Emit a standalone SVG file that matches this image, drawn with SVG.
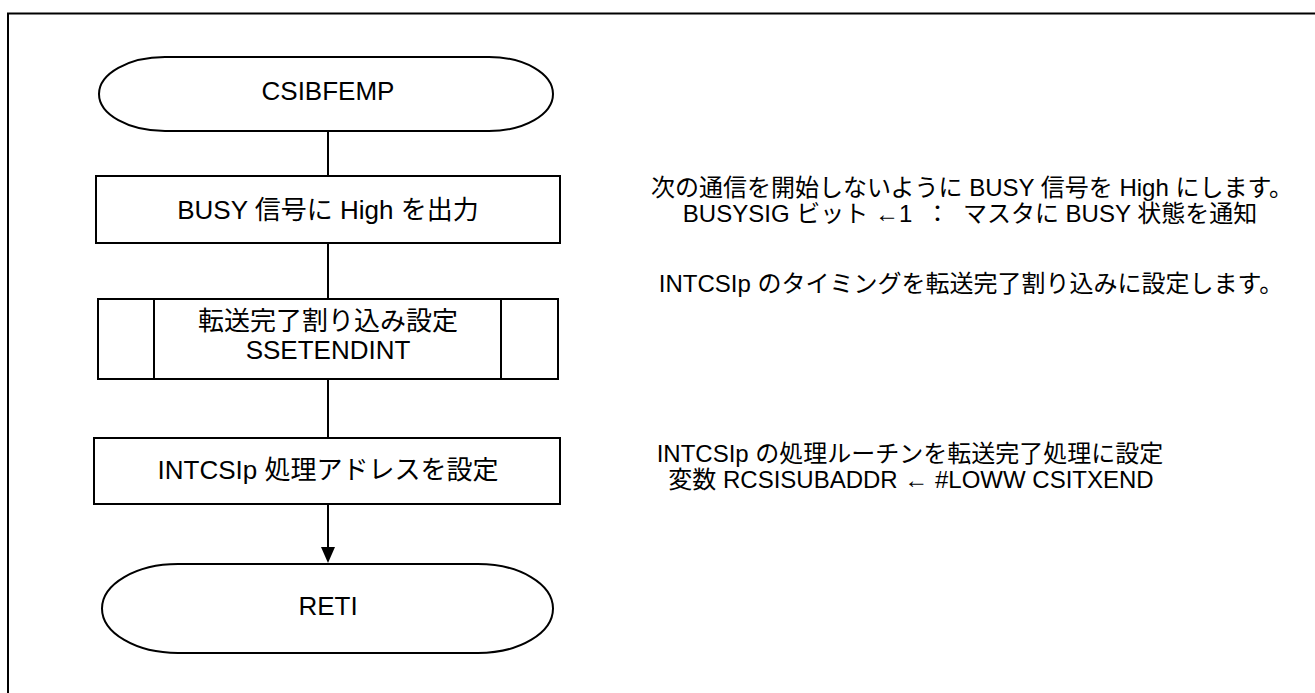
<svg xmlns="http://www.w3.org/2000/svg" width="1315" height="693" viewBox="0 0 1315 693">
<defs>
<style>
.s{fill:#fff;stroke:#000;stroke-width:2}
.l{fill:none;stroke:#000;stroke-width:2}
.t{font-family:"Liberation Sans","Noto Sans CJK JP",sans-serif;font-size:26px;fill:#000;text-anchor:middle}
.n{font-family:"Liberation Sans","Noto Sans CJK JP",sans-serif;font-size:24px;fill:#000;text-anchor:middle}
</style>
</defs>
<rect width="1315" height="693" fill="#fff"/>
<rect x="8" y="13.5" width="1330" height="700" class="l"/>
<g id="connectors">
<line x1="328" y1="131" x2="328" y2="176" class="l"/>
<line x1="328" y1="243" x2="328" y2="299" class="l"/>
<line x1="328" y1="379" x2="328" y2="438" class="l"/>
<line x1="328" y1="504" x2="328" y2="548" class="l"/>
<path d="M321,547 L335,547 L328,563 Z" fill="#000"/>
</g>
<g id="start">
<path d="M165,57 L489,57 A64,37 0 0 1 489,131 L165,131 A66,37 0 0 1 165,57 Z" class="s"/>
<text x="328" y="100" class="t">CSIBFEMP</text>
</g>
<g id="busy">
<rect x="96" y="176" width="464" height="67" class="s"/>
<text x="328" y="219" class="t">BUSY 信号に High を出力</text>
</g>
<g id="ssetendint">
<rect x="98" y="299" width="460" height="80" class="s"/>
<line x1="154" y1="299" x2="154" y2="379" class="l"/>
<line x1="501" y1="299" x2="501" y2="379" class="l"/>
<text x="328" y="330" class="t">転送完了割り込み設定</text>
<text x="328" y="359" class="t">SSETENDINT</text>
</g>
<g id="intcsi">
<rect x="94" y="438" width="466" height="66" class="s"/>
<text x="328" y="479" class="t">INTCSIp 処理アドレスを設定</text>
</g>
<g id="reti">
<path d="M178,564 L478,564 A75,44.5 0 0 1 478,653 L178,653 A76,44.5 0 0 1 178,564 Z" class="s"/>
<text x="328" y="615" class="t">RETI</text>
</g>
<g id="notes">
<text x="972" y="196" class="n">次の通信を開始しないように BUSY 信号を High にします。</text>
<text x="970" y="222" class="n" xml:space="preserve">BUSYSIG ビット ←1  ：  マスタに BUSY 状態を通知</text>
<text x="971" y="292" class="n">INTCSIp のタイミングを転送完了割り込みに設定します。</text>
<text x="910" y="462" class="n">INTCSIp の処理ルーチンを転送完了処理に設定</text>
<text x="911" y="488" class="n">変数 RCSISUBADDR ← #LOWW CSITXEND</text>
</g>
</svg>
